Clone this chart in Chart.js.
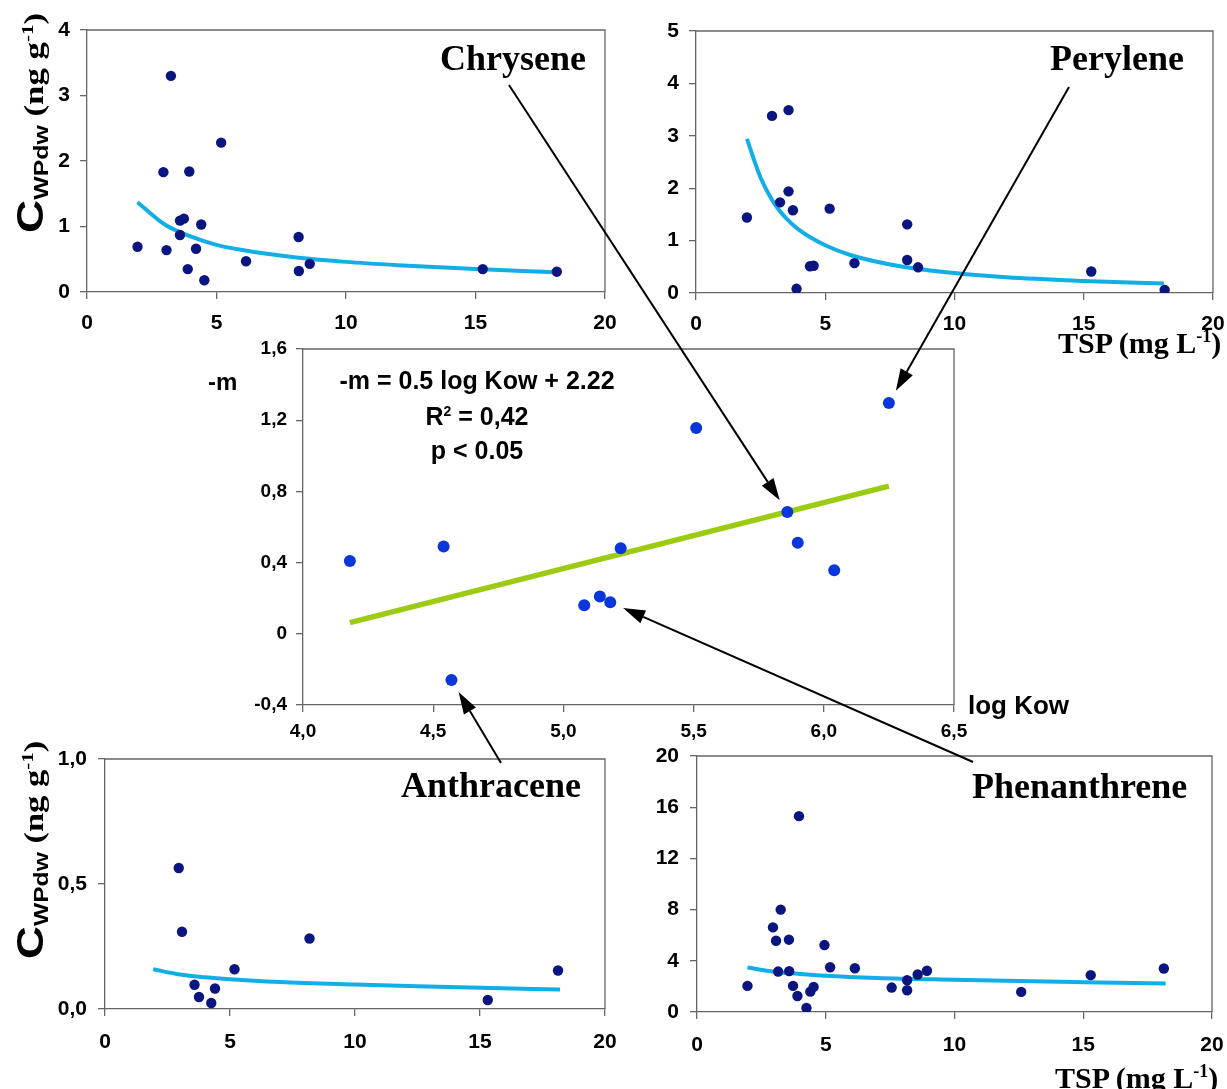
<!DOCTYPE html>
<html><head><meta charset="utf-8">
<script src="https://cdn.jsdelivr.net/npm/chart.js@4/dist/chart.umd.min.js"></script>
<style>
html,body{margin:0;padding:0;background:#fff;}
body{width:1227px;height:1089px;position:relative;overflow:hidden;}
canvas.cv{position:absolute;}
.lbl{position:absolute;white-space:nowrap;color:#000;line-height:1;}
.times{font-family:"Liberation Serif","Times New Roman",serif;font-weight:bold;}
.sans{font-family:"Liberation Sans",Arial,sans-serif;font-weight:bold;}
.ytitle{position:absolute;white-space:nowrap;line-height:1;transform-origin:0 0;}
</style></head>
<body>
<canvas id="c1" class="cv" width="600" height="345" style="left:20px;top:0px"></canvas>
<canvas id="c2" class="cv" width="597" height="345" style="left:630px;top:0px"></canvas>
<canvas id="c3" class="cv" width="780" height="410" style="left:200px;top:340px"></canvas>
<canvas id="c4" class="cv" width="600" height="344" style="left:20px;top:745px"></canvas>
<canvas id="c5" class="cv" width="597" height="344" style="left:630px;top:745px"></canvas>
<canvas id="ov" class="cv" width="1227" height="1089" style="left:0;top:0;z-index:10;pointer-events:none"></canvas>

<div class="lbl times" style="left:440px;top:40px;font-size:36px">Chrysene</div>
<div class="lbl times" style="left:1050px;top:40px;font-size:36px">Perylene</div>
<div class="lbl times" style="left:401px;top:767px;font-size:36px">Anthracene</div>
<div class="lbl times" style="left:972px;top:768px;font-size:36px">Phenanthrene</div>
<div class="lbl times" style="left:1058px;top:327px;font-size:30px">TSP (mg L<sup style="font-size:18px">-1</sup>)</div>
<div class="lbl times" style="left:1055px;top:1062px;font-size:30px">TSP (mg L<sup style="font-size:18px">-1</sup>)</div>

<div class="lbl sans" style="left:208px;top:370px;font-size:24px">-m</div>
<div class="lbl sans" style="left:322px;top:368px;font-size:25px;width:310px;text-align:center">-m = 0.5 log Kow + 2.22</div>
<div class="lbl sans" style="left:322px;top:404px;font-size:25px;width:310px;text-align:center">R<sup style="font-size:14px">2</sup> = 0,42</div>
<div class="lbl sans" style="left:322px;top:438px;font-size:25px;width:310px;text-align:center">p &lt; 0.05</div>
<div class="lbl sans" style="left:968px;top:692px;font-size:26px">log Kow</div>

<div id="yt1" class="ytitle"><span class="sans" style="font-size:37px">C</span><span class="sans" style="font-size:20px;position:relative;top:5px">WPdw</span><span class="times" style="font-size:28px"> (ng g<sup style="font-size:17px">-1</sup>)</span></div>
<div id="yt2" class="ytitle"><span class="sans" style="font-size:37px">C</span><span class="sans" style="font-size:20px;position:relative;top:5px">WPdw</span><span class="times" style="font-size:28px"> (ng g<sup style="font-size:17px">-1</sup>)</span></div>

<script>
// ---------------- data ----------------
const tspChrysene = [1.95,3.07,3.24,2.95,3.95,3.59,3.74,3.59,4.41,4.21,3.89,4.53,5.18,6.14,8.17,8.18,8.60,15.28,18.14];
const cwpChrysene = [0.69,0.64,3.30,1.83,1.84,1.09,1.12,0.87,1.03,0.66,0.35,0.18,2.28,0.47,0.84,0.32,0.43,0.35,0.31];
const fitTspChrysene = [1.95,3,4,5,6,8,10,12,15,18.1];
const fitCwpChrysene = [1.37,1.03,0.85,0.72,0.64,0.53,0.46,0.41,0.35,0.30];

const tspPerylene = [1.97,2.94,3.58,3.58,3.25,3.75,3.89,4.41,4.55,5.17,6.13,8.17,8.17,8.59,15.29,18.13];
const cwpPerylene = [1.44,3.38,3.49,1.94,1.73,1.58,0.08,0.51,0.52,1.61,0.57,1.31,0.63,0.49,0.41,0.06];
const fitTspPerylene = [1.97,2.5,3,3.5,4,5,6,8,10,12,15,18.1];
const fitCwpPerylene = [2.94,2.2,1.73,1.42,1.20,0.91,0.72,0.50,0.38,0.30,0.23,0.18];

const tspAnthracene = [2.95,3.08,3.58,3.76,4.25,4.40,5.18,8.18,15.31,18.12];
const cwpAnthracene = [0.564,0.309,0.097,0.048,0.024,0.082,0.159,0.282,0.036,0.154];
const fitTspAnthracene = [1.93,3,4,5,7,10,12.5,15,18.2];
const fitCwpAnthracene = [0.159,0.138,0.127,0.119,0.108,0.098,0.091,0.085,0.078];

const tspPhenanthrene = [1.96,2.95,3.07,3.25,3.15,3.57,3.58,3.73,3.90,3.96,4.25,4.40,4.53,4.95,5.17,6.13,7.56,8.16,8.16,8.57,8.93,12.59,15.29,18.13];
const cwpPhenanthrene = [2.04,6.61,5.57,8.0,3.16,5.65,3.19,2.04,1.25,15.3,0.31,1.59,1.96,5.23,3.50,3.42,1.91,2.48,1.70,2.93,3.22,1.57,2.88,3.40];
const fitTspPhenanthrene = [1.96,3,4,5,7,10,12.5,15,18.2];
const fitCwpPhenanthrene = [3.48,3.15,2.97,2.83,2.66,2.52,2.42,2.33,2.22];

const logKow = [4.18,4.54,4.57,5.08,5.14,5.18,5.22,5.51,5.86,5.90,6.04,6.25];
const minusM = [0.409,0.491,-0.26,0.16,0.209,0.177,0.48,1.156,0.684,0.512,0.357,1.297];
const regLogKow = [4.18,6.25];
const regMinusM = [0.063,0.83];

// annotation arrows: compound label -> index of its point in logKow/minusM
const arrowNames = ['Chrysene','Perylene','Anthracene','Phenanthrene'];
const arrowIndex = [8,11,2,5];
const arrowTails = [[509,85],[1069,87],[501,763],[973,762]];

// ---------------- helpers ----------------
const NAVY = '#0b1580', CURVE = '#12aee6', BLUE = '#0a36dc', GREEN = '#9ccb14', AXIS = '#666';
const pts = (xs, ys) => xs.map((x, i) => ({x, y: ys[i]}));

const boxPlugin = {
  id: 'box',
  afterDraw(c) {
    const a = c.chartArea, ctx = c.ctx;
    ctx.save();
    ctx.strokeStyle = AXIS; ctx.lineWidth = 1.3;
    ctx.beginPath();
    ctx.moveTo(a.left, a.top); ctx.lineTo(a.right, a.top); ctx.lineTo(a.right, a.bottom);
    ctx.stroke();
    ctx.restore();
  }
};

function makeChart(id, geom, datasets, xs, ys, fontSize) {
  const cv = document.getElementById(id);
  const cl = parseFloat(cv.style.left), ct = parseFloat(cv.style.top);
  const W = cv.width, H = cv.height;
  const yW = geom.l - cl, padTop = geom.t - ct, padRight = cl + W - geom.r, xH = ct + H - geom.b;
  const font = {family: '"Liberation Sans", Arial, sans-serif', weight: 'bold', size: fontSize};
  return new Chart(cv, {
    type: 'scatter',
    data: {datasets},
    options: {
      responsive: false, animation: false, devicePixelRatio: 1,
      plugins: {legend: {display: false}, tooltip: {enabled: false}},
      layout: {padding: {left: 0, top: padTop, right: padRight, bottom: 0}},
      scales: {
        x: Object.assign({
          type: 'linear', position: 'bottom',
          grid: {drawOnChartArea: false, tickLength: 7, color: AXIS, lineWidth: 1.3},
          border: {color: AXIS, width: 1.3},
          afterFit(s) { s.height = xH; s.paddingLeft = 0; s.paddingRight = 0; }
        }, xs, {ticks: Object.assign({color: '#000', font, maxRotation: 0, autoSkip: false}, xs.ticks)}),
        y: Object.assign({
          type: 'linear', position: 'left',
          grid: {drawOnChartArea: false, tickLength: 7, color: AXIS, lineWidth: 1.3},
          border: {color: AXIS, width: 1.3},
          afterFit(s) { s.width = yW; s.paddingTop = 0; s.paddingBottom = 0; }
        }, ys, {ticks: Object.assign({color: '#000', font}, ys.ticks)})
      }
    },
    plugins: [boxPlugin]
  });
}

function tspSets(xs, ys, fx, fy) {
  return [
    {data: pts(fx, fy), showLine: true, borderColor: CURVE, borderWidth: 4, pointRadius: 0, tension: 0.4, cubicInterpolationMode: 'monotone', order: 2},
    {data: pts(xs, ys), backgroundColor: NAVY, borderWidth: 0, pointRadius: 5.2, order: 1}
  ];
}

const xTSP = {min: 0, max: 20, ticks: {stepSize: 5, padding: 12}};

makeChart('c1', {l: 87, t: 30, r: 605, b: 292},
  tspSets(tspChrysene, cwpChrysene, fitTspChrysene, fitCwpChrysene),
  xTSP, {min: 0, max: 4, ticks: {stepSize: 1, padding: 10}}, 21);

makeChart('c2', {l: 696, t: 31, r: 1213, b: 293},
  tspSets(tspPerylene, cwpPerylene, fitTspPerylene, fitCwpPerylene),
  xTSP, {min: 0, max: 5, ticks: {stepSize: 1, padding: 10}}, 21);

makeChart('c4', {l: 105, t: 759, r: 605, b: 1009},
  tspSets(tspAnthracene, cwpAnthracene, fitTspAnthracene, fitCwpAnthracene),
  {min: 0, max: 20, ticks: {stepSize: 5, padding: 14}},
  {min: 0, max: 1, ticks: {stepSize: 0.5, padding: 11, callback: v => v.toFixed(1).replace('.', ',')}}, 21);

makeChart('c5', {l: 697, t: 756, r: 1212, b: 1012},
  tspSets(tspPhenanthrene, cwpPhenanthrene, fitTspPhenanthrene, fitCwpPhenanthrene),
  {min: 0, max: 20, ticks: {stepSize: 5, padding: 14}},
  {min: 0, max: 20, ticks: {stepSize: 4, padding: 11}}, 21);

const center = makeChart('c3', {l: 303, t: 349, r: 954, b: 705},
  [
    {data: pts(regLogKow, regMinusM), showLine: true, borderColor: GREEN, borderWidth: 5.5, pointRadius: 0, order: 2},
    {data: pts(logKow, minusM), backgroundColor: BLUE, borderWidth: 0, pointRadius: 6, order: 1}
  ],
  {min: 4, max: 6.5, ticks: {stepSize: 0.5, padding: 8, callback: v => v.toFixed(1).replace('.', ',')}},
  {min: -0.4, max: 1.6, ticks: {stepSize: 0.4, padding: 9, callback: v => {
    let s = (Math.round(v * 10) / 10).toFixed(1);
    if (s === '0.0' || s === '-0.0') s = '0';
    return s.replace('.', ',');
  }}}, 19);

// ---------------- arrows ----------------
(function drawArrows() {
  const cv = document.getElementById('c3');
  const ox = parseFloat(cv.style.left), oy = parseFloat(cv.style.top);
  const ctx = document.getElementById('ov').getContext('2d');
  ctx.strokeStyle = '#000'; ctx.fillStyle = '#000'; ctx.lineWidth = 2;
  arrowIndex.forEach((idx, k) => {
    const px = ox + center.scales.x.getPixelForValue(logKow[idx]);
    const py = oy + center.scales.y.getPixelForValue(minusM[idx]);
    const [tx, ty] = arrowTails[k];
    const dx = tx - px, dy = ty - py, d = Math.hypot(dx, dy);
    const ux = dx / d, uy = dy / d;
    const hx = px + ux * 14, hy = py + uy * 14; // tip
    const L = 22, Wd = 7;
    const bx = hx + ux * L, by = hy + uy * L;
    ctx.beginPath(); ctx.moveTo(tx, ty); ctx.lineTo(bx, by); ctx.stroke();
    ctx.beginPath();
    ctx.moveTo(hx, hy);
    ctx.lineTo(bx - uy * Wd, by + ux * Wd);
    ctx.lineTo(bx + uy * Wd, by - ux * Wd);
    ctx.closePath(); ctx.fill();
  });
})();

// ---------------- y titles ----------------
function placeYTitle(id, cx, cy, len) {
  const el = document.getElementById(id);
  const w = el.offsetWidth, h = el.offsetHeight;
  const sx = len / w;
  el.style.left = (cx - h / 2) + 'px';
  el.style.top = (cy + len / 2) + 'px';
  el.style.transform = 'rotate(-90deg) scaleX(' + sx + ')';
}
placeYTitle('yt1', 30, 123, 220);
placeYTitle('yt2', 30, 850, 218);
</script>
</body></html>
